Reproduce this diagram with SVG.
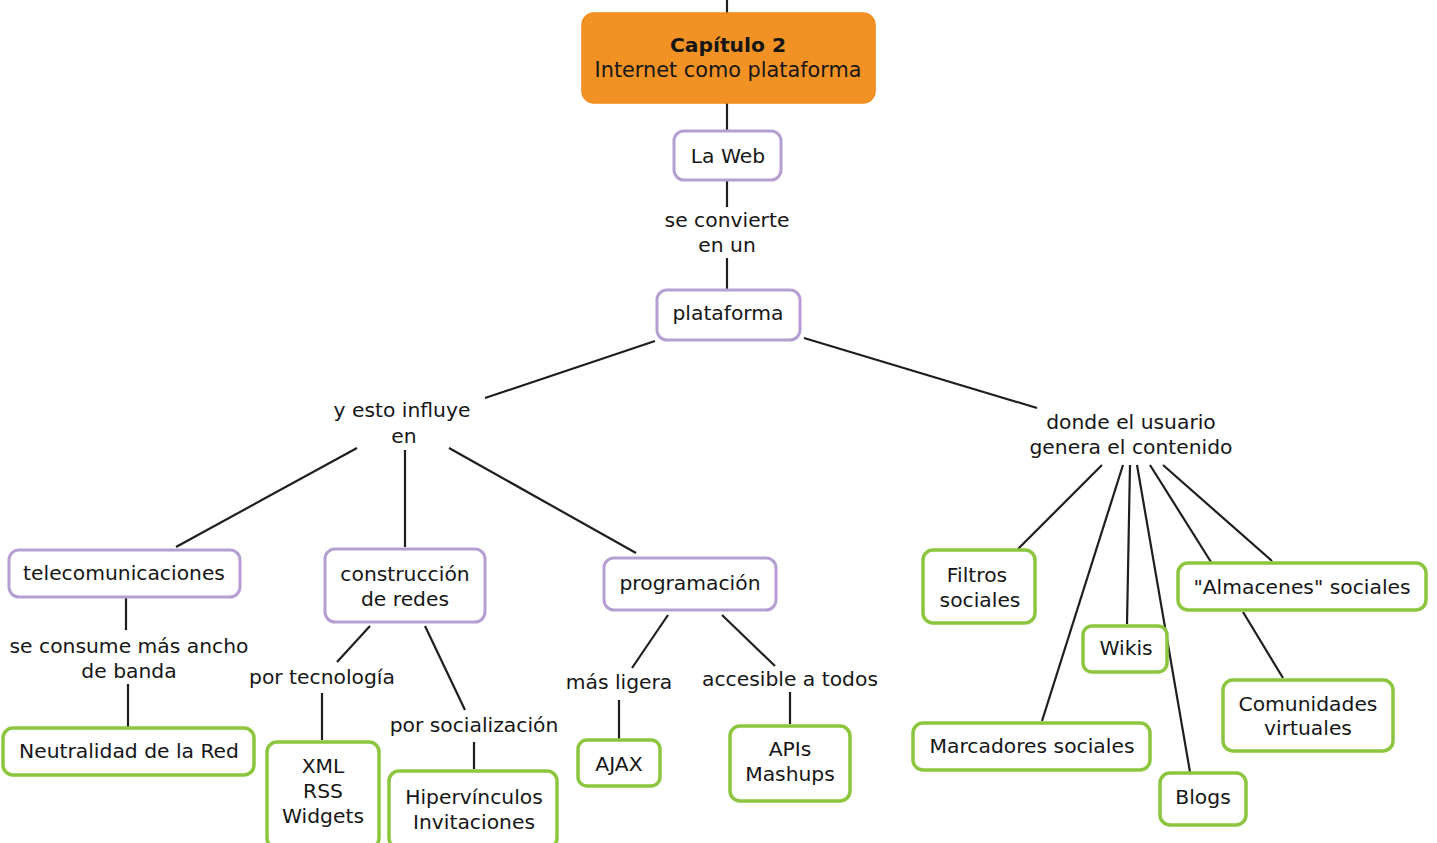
<svg xmlns="http://www.w3.org/2000/svg" width="1437" height="843" viewBox="0 0 1437 843">
  <style>
    text { font-family: "DejaVu Sans", Verdana, sans-serif; font-size: 20.3px; fill: #161616; text-anchor: middle; }
    .b { font-weight: bold; }
    .concept { fill: #fff; stroke: #b59fd2; stroke-width: 3; }
    .leaf { fill: #fff; stroke: #8cc63e; stroke-width: 3.5; }
    .title { fill: #f39224; stroke: #f08a1a; stroke-width: 1.5; }
    .links line { stroke: #1e1e1e; stroke-width: 2.2; }
  </style>
  <rect width="1437" height="843" fill="#fff"/>

  <!-- connectors -->
  <g class="links">
    <line x1="727" y1="0" x2="727" y2="13"/>
    <line x1="727" y1="103" x2="727" y2="131"/>
    <line x1="727" y1="180" x2="727" y2="207"/>
    <line x1="727" y1="258" x2="727" y2="290"/>
    <line x1="655" y1="341" x2="485" y2="398"/>
    <line x1="804" y1="338" x2="1037" y2="408"/>
    <line x1="357" y1="448" x2="176" y2="547"/>
    <line x1="405" y1="450" x2="405" y2="547"/>
    <line x1="449" y1="448" x2="636" y2="553"/>
    <line x1="126" y1="598" x2="126" y2="630"/>
    <line x1="128" y1="684" x2="128" y2="727"/>
    <line x1="370" y1="626" x2="337" y2="662"/>
    <line x1="322" y1="693" x2="322" y2="740"/>
    <line x1="425" y1="626" x2="465" y2="710"/>
    <line x1="474" y1="742" x2="474" y2="769"/>
    <line x1="668" y1="615" x2="632" y2="668"/>
    <line x1="619" y1="700" x2="619" y2="739"/>
    <line x1="722" y1="615" x2="775" y2="666"/>
    <line x1="790" y1="692" x2="790" y2="724"/>
    <line x1="1102" y1="465" x2="1018" y2="549"/>
    <line x1="1123" y1="465" x2="1042" y2="721"/>
    <line x1="1130" y1="465" x2="1127" y2="624"/>
    <line x1="1137" y1="465" x2="1190" y2="772"/>
    <line x1="1150" y1="465" x2="1211" y2="562"/>
    <line x1="1163" y1="465" x2="1272" y2="561"/>
    <line x1="1243" y1="612" x2="1283" y2="678"/>
  </g>

  <!-- linking phrases -->
  <g id="lbl-convierte"><text x="727" y="227">se convierte</text><text x="727" y="252">en un</text></g>
  <g id="lbl-influye"><text x="402" y="417">y esto influye</text><text x="404" y="443">en</text></g>
  <g id="lbl-usuario"><text x="1131" y="429">donde el usuario</text><text x="1131" y="454">genera el contenido</text></g>
  <g id="lbl-ancho"><text x="129" y="653">se consume más ancho</text><text x="129" y="678">de banda</text></g>
  <g id="lbl-tecnologia"><text x="322" y="684">por tecnología</text></g>
  <g id="lbl-socializacion"><text x="474" y="732">por socialización</text></g>
  <g id="lbl-ligera"><text x="619" y="689">más ligera</text></g>
  <g id="lbl-accesible"><text x="790" y="686">accesible a todos</text></g>

  <!-- concepts -->
  <g id="capitulo">
    <rect class="title" x="582" y="13" width="293" height="90" rx="12"/>
    <text class="b" x="728" y="52">Capítulo 2</text>
    <text x="728" y="77" style="font-size:20.8px">Internet como plataforma</text>
  </g>
  <g id="la-web">
    <rect class="concept" x="674" y="131" width="107" height="49" rx="10"/>
    <text x="728" y="163">La Web</text>
  </g>
  <g id="plataforma">
    <rect class="concept" x="657" y="290" width="143" height="50" rx="10"/>
    <text x="728" y="320">plataforma</text>
  </g>
  <g id="telecomunicaciones">
    <rect class="concept" x="9" y="550" width="231" height="47" rx="10"/>
    <text x="124" y="580">telecomunicaciones</text>
  </g>
  <g id="construccion">
    <rect class="concept" x="325" y="549" width="160" height="73" rx="10"/>
    <text x="405" y="581">construcción</text>
    <text x="405" y="606">de redes</text>
  </g>
  <g id="programacion">
    <rect class="concept" x="604" y="558" width="172" height="52" rx="10"/>
    <text x="690" y="590">programación</text>
  </g>

  <!-- leaves -->
  <g id="neutralidad">
    <rect class="leaf" x="3" y="728" width="251" height="47" rx="10"/>
    <text x="129" y="758">Neutralidad de la Red</text>
  </g>
  <g id="xml">
    <rect class="leaf" x="267" y="742" width="112" height="106" rx="10"/>
    <text x="323" y="773">XML</text>
    <text x="323" y="798">RSS</text>
    <text x="323" y="823">Widgets</text>
  </g>
  <g id="hipervinculos">
    <rect class="leaf" x="389" y="771" width="168" height="77" rx="10"/>
    <text x="474" y="804">Hipervínculos</text>
    <text x="474" y="829">Invitaciones</text>
  </g>
  <g id="ajax">
    <rect class="leaf" x="578" y="740" width="82" height="46" rx="9"/>
    <text x="619" y="771">AJAX</text>
  </g>
  <g id="apis">
    <rect class="leaf" x="730" y="726" width="120" height="75" rx="10"/>
    <text x="790" y="756">APIs</text>
    <text x="790" y="781">Mashups</text>
  </g>
  <g id="filtros">
    <rect class="leaf" x="923" y="550" width="112" height="73" rx="10"/>
    <text x="977" y="582">Filtros</text>
    <text x="980" y="607">sociales</text>
  </g>
  <g id="wikis">
    <rect class="leaf" x="1083" y="626" width="84" height="46" rx="9"/>
    <text x="1126" y="655">Wikis</text>
  </g>
  <g id="marcadores">
    <rect class="leaf" x="913" y="723" width="237" height="47" rx="10"/>
    <text x="1032" y="753">Marcadores sociales</text>
  </g>
  <g id="blogs">
    <rect class="leaf" x="1160" y="773" width="86" height="52" rx="10"/>
    <text x="1203" y="804">Blogs</text>
  </g>
  <g id="almacenes">
    <rect class="leaf" x="1178" y="563" width="248" height="47" rx="10"/>
    <text x="1302" y="594">"Almacenes" sociales</text>
  </g>
  <g id="comunidades">
    <rect class="leaf" x="1223" y="680" width="170" height="71" rx="10"/>
    <text x="1308" y="711">Comunidades</text>
    <text x="1308" y="735">virtuales</text>
  </g>
</svg>
